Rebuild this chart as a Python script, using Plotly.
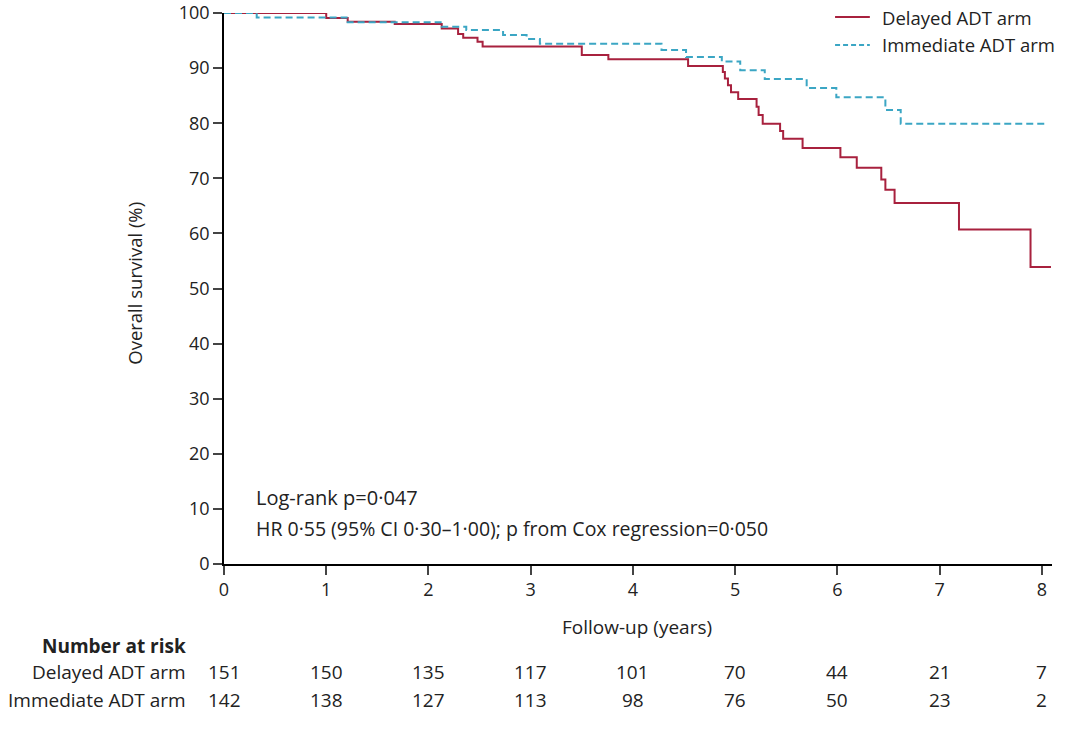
import plotly.graph_objects as go

# Kaplan-Meier step data (years, % survival)
delayed_t = [0, 1.0, 1.21, 1.67, 2.13, 2.29, 2.34, 2.48, 2.53, 3.50, 3.76, 4.54, 4.88, 4.90, 4.93, 4.96,
             5.03, 5.21, 5.23, 5.27, 5.44, 5.47, 5.66, 6.03, 6.19, 6.43, 6.47, 6.56, 7.19, 7.89, 8.09]
delayed_s = [100, 99.1, 98.4, 98.0, 97.2, 96.2, 95.5, 94.8, 93.9, 92.4, 91.6, 90.4, 89.3, 88.1, 86.9, 85.6,
             84.4, 83.0, 81.5, 79.9, 78.6, 77.2, 75.5, 73.8, 71.9, 69.8, 67.9, 65.5, 60.7, 53.9, 53.9]

immediate_t = [0, 0.32, 1.21, 2.13, 2.37, 2.73, 2.96, 3.09, 4.28, 4.52, 4.87, 5.05, 5.29, 5.70, 5.99,
               6.47, 6.62, 8.05]
immediate_s = [100, 99.2, 98.3, 97.5, 96.9, 96.0, 95.3, 94.4, 93.3, 92.0, 91.2, 89.6, 88.0, 86.4, 84.7,
               82.4, 79.9, 79.9]

series_names = ["Delayed ADT arm", "Immediate ADT arm"]

risk_years = [0, 1, 2, 3, 4, 5, 6, 7, 8]
risk_delayed = [151, 150, 135, 117, 101, 70, 44, 21, 7]
risk_immediate = [142, 138, 127, 113, 98, 76, 50, 23, 2]

x_ticks = [0, 1, 2, 3, 4, 5, 6, 7, 8]
y_ticks = [0, 10, 20, 30, 40, 50, 60, 70, 80, 90, 100]

RED = "#a8213e"
BLUE = "#3ba6c4"
TXT = "#222222"
FONT = "Open Sans"
TS = 19     # text size
TK = 18     # tick size
BLUE_DASH = "7px,4px"

# plot area: top 13 px, bottom 564 px
TOP = 13
PH = 730 - TOP - 166


def py(pixel_y):
    """pixel row -> paper fraction"""
    return (564 - pixel_y) / PH


fig = go.Figure()
fig.add_trace(go.Scatter(x=delayed_t, y=delayed_s, mode="lines", line_shape="hv",
                         line=dict(color=RED, width=2), name=series_names[0], showlegend=False))
fig.add_trace(go.Scatter(x=immediate_t, y=immediate_s, mode="lines", line_shape="hv",
                         line=dict(color=BLUE, width=2, dash=BLUE_DASH), name=series_names[1],
                         showlegend=False))

fig.update_layout(
    width=1072, height=730,
    margin=dict(l=224, r=20, t=TOP, b=166, autoexpand=False),
    plot_bgcolor="white", paper_bgcolor="white",
    font=dict(family=FONT, size=TS, color=TXT),
    xaxis=dict(range=[0, 8.1], tickvals=x_ticks, ticks="outside", ticklen=9, tickwidth=1.5,
               showline=True, linecolor="black", linewidth=1.5, showgrid=False, zeroline=False,
               tickfont=dict(size=TK), ticklabeloverflow="allow"),
    yaxis=dict(range=[0, 100], tickvals=y_ticks, ticks="outside", ticklen=9, tickwidth=1.5,
               showline=True, linecolor="black", linewidth=1.5, showgrid=False, zeroline=False,
               tickfont=dict(size=TK), ticklabeloverflow="allow"),
)

# manual legend (top right)
shapes = [
    dict(type="line", xref="paper", yref="paper", x0=0.738, x1=0.780, y0=py(17), y1=py(17),
         line=dict(color=RED, width=2)),
    dict(type="line", xref="paper", yref="paper", x0=0.738, x1=0.780, y0=py(45), y1=py(45),
         line=dict(color=BLUE, width=2, dash="5px,3px")),
]
fig.update_layout(shapes=shapes)

ann = []
ann.append(dict(x=0.792, y=py(17), xref="paper", yref="paper", xanchor="left", yanchor="middle",
                text=series_names[0], showarrow=False, font=dict(size=18.5)))
ann.append(dict(x=0.792, y=py(45), xref="paper", yref="paper", xanchor="left", yanchor="middle",
                text=series_names[1], showarrow=False, font=dict(size=18.5)))
ann.append(dict(x=-0.109, y=py(283), xref="paper", yref="paper", xanchor="center", yanchor="middle",
                text="Overall survival (%)", textangle=-90, showarrow=False, font=dict(size=18.5)))
ann.append(dict(x=4.04, y=py(627), xref="x", yref="paper", xanchor="center", yanchor="middle",
                text="Follow-up (years)", showarrow=False, font=dict(size=TS)))
ann.append(dict(x=0.29, y=py(497), xref="x", yref="paper", xanchor="left", yanchor="middle",
                text="Log-rank p=0·047", showarrow=False, font=dict(size=20)))
ann.append(dict(x=0.29, y=py(528), xref="x", yref="paper", xanchor="left", yanchor="middle",
                text="HR 0·55 (95% CI 0·30–1·00); p from Cox regression=0·050",
                showarrow=False, font=dict(size=19.5)))
ann.append(dict(x=-0.0435, y=py(646), xref="paper", yref="paper", xanchor="right", yanchor="middle",
                text="<b>Number at risk</b>", showarrow=False, font=dict(size=TS)))
ann.append(dict(x=-0.0435, y=py(672), xref="paper", yref="paper", xanchor="right", yanchor="middle",
                text=series_names[0], showarrow=False, font=dict(size=TS)))
ann.append(dict(x=-0.0435, y=py(700), xref="paper", yref="paper", xanchor="right", yanchor="middle",
                text=series_names[1], showarrow=False, font=dict(size=TS)))
for yr, d, i in zip(risk_years, risk_delayed, risk_immediate):
    ann.append(dict(x=yr, y=py(672), xref="x", yref="paper", xanchor="center", yanchor="middle",
                    text=str(d), showarrow=False, font=dict(size=TS)))
    ann.append(dict(x=yr, y=py(700), xref="x", yref="paper", xanchor="center", yanchor="middle",
                    text=str(i), showarrow=False, font=dict(size=TS)))
fig.update_layout(annotations=ann)

fig.write_html("out.html")
